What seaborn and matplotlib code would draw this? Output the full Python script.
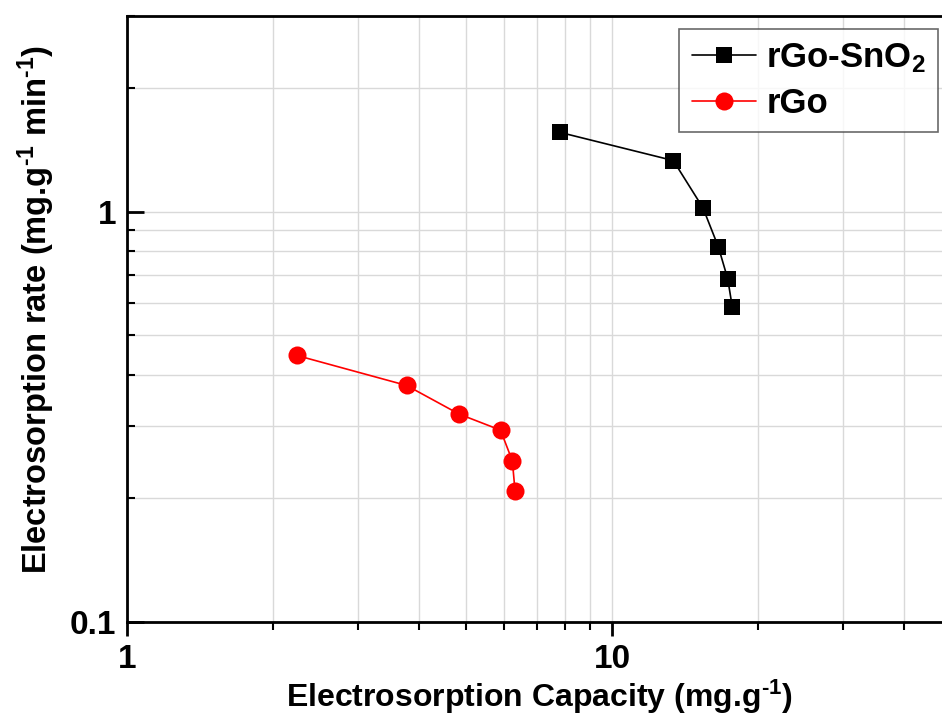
import matplotlib
matplotlib.use("Agg")
import matplotlib.pyplot as plt
import seaborn as sns
import pandas as pd
import numpy as np
from matplotlib.ticker import LogLocator, FixedLocator, FixedFormatter, NullFormatter

# Data
snO2_capacity = [7.81, 13.38, 15.40, 16.57, 17.32, 17.70]
snO2_rate = [1.559, 1.331, 1.021, 0.820, 0.686, 0.586]
rgo_capacity = [2.24, 3.77, 4.84, 5.89, 6.23, 6.31]
rgo_rate = [0.446, 0.377, 0.321, 0.2934, 0.247, 0.209]
series_names = ["rGo-SnO$_2$", "rGo"]
x_ticks = [1, 10]
x_ticklabels = ["1", "10"]
y_ticks = [0.1, 1]
y_ticklabels = ["0.1", "1"]

df = pd.DataFrame({
    "capacity": snO2_capacity + rgo_capacity,
    "rate": snO2_rate + rgo_rate,
    "series": [series_names[0]] * len(snO2_capacity) + [series_names[1]] * len(rgo_capacity),
})

sns.set_theme(style="white")
plt.rcParams['font.family'] = ['Liberation Sans', 'DejaVu Sans']
plt.rcParams['font.weight'] = 'bold'
plt.rcParams['text.color'] = 'black'
plt.rcParams['axes.labelcolor'] = 'black'
plt.rcParams['xtick.color'] = 'black'
plt.rcParams['ytick.color'] = 'black'
plt.rcParams['mathtext.fontset'] = 'custom'
plt.rcParams['mathtext.rm'] = 'Liberation Sans:bold'
plt.rcParams['mathtext.bf'] = 'Liberation Sans:bold'
plt.rcParams['mathtext.default'] = 'rm'

fig = plt.figure(figsize=(9.42, 7.16), dpi=100)
ax = fig.add_axes([127/942, 1-622/716, (951-127)/942, (622-15.7)/716])

palette = {series_names[0]: "black", series_names[1]: "red"}
markers = {series_names[0]: "s", series_names[1]: "o"}
for name in series_names:
    sub = df[df["series"] == name]
    sns.lineplot(data=sub, x="capacity", y="rate", ax=ax, color=palette[name],
                 marker=markers[name], markersize=12 if name == series_names[0] else 13,
                 markeredgewidth=0, linewidth=1.2, label=name, sort=False,
                 estimator=None)

ax.set_xscale("log")
ax.set_yscale("log")
ax.set_xlim(1, 50)
ax.set_ylim(0.1, 3.0)

ax.xaxis.set_major_locator(FixedLocator(x_ticks))
ax.xaxis.set_major_formatter(FixedFormatter(x_ticklabels))
ax.xaxis.set_minor_locator(LogLocator(base=10, subs=np.arange(2, 10)))
ax.xaxis.set_minor_formatter(NullFormatter())
ax.yaxis.set_major_locator(FixedLocator(y_ticks))
ax.yaxis.set_major_formatter(FixedFormatter(y_ticklabels))
ax.yaxis.set_minor_locator(LogLocator(base=10, subs=np.arange(2, 10)))
ax.yaxis.set_minor_formatter(NullFormatter())

ax.grid(True, which="both", color="#d9d9d9", linewidth=1.0)
ax.set_axisbelow(True)
for s in ax.spines.values():
    s.set_color("black")
    s.set_linewidth(2.0)

ax.tick_params(axis="x", which="major", direction="out", length=10, width=2, labelsize=24, pad=6, bottom=True)
ax.tick_params(axis="x", which="minor", direction="out", length=6, width=1.5, bottom=True)
ax.tick_params(axis="y", which="major", direction="in", length=12, width=2, labelsize=24, pad=8, left=True)
ax.tick_params(axis="y", which="minor", direction="in", length=6, width=1.5, left=True)
for lbl in ax.get_xticklabels() + ax.get_yticklabels():
    lbl.set_fontweight("bold")

ax.set_xlabel("Electrosorption Capacity (mg.g$^{\u2010 1}$)", fontsize=23, fontweight="bold", labelpad=2)
ax.set_ylabel("Electrosorption rate (mg.g$^{\u2010 1}$ min$^{\u2010 1}$)", fontsize=23.5, fontweight="bold")
ax.yaxis.set_label_coords(-0.085, 0.515)

leg = ax.legend(loc="upper right", bbox_to_anchor=((938-127)/(951-127), 1-(29-15.7)/(622-15.7)),
                frameon=True, fancybox=False, edgecolor="#444444", fontsize=25,
                handlelength=1.85, handletextpad=0.3, borderpad=0.35, labelspacing=0.35,
                borderaxespad=0)
leg.get_frame().set_linewidth(1.2)
for t in leg.get_texts():
    t.set_fontweight("bold")

fig.savefig("out.png", dpi=100)
